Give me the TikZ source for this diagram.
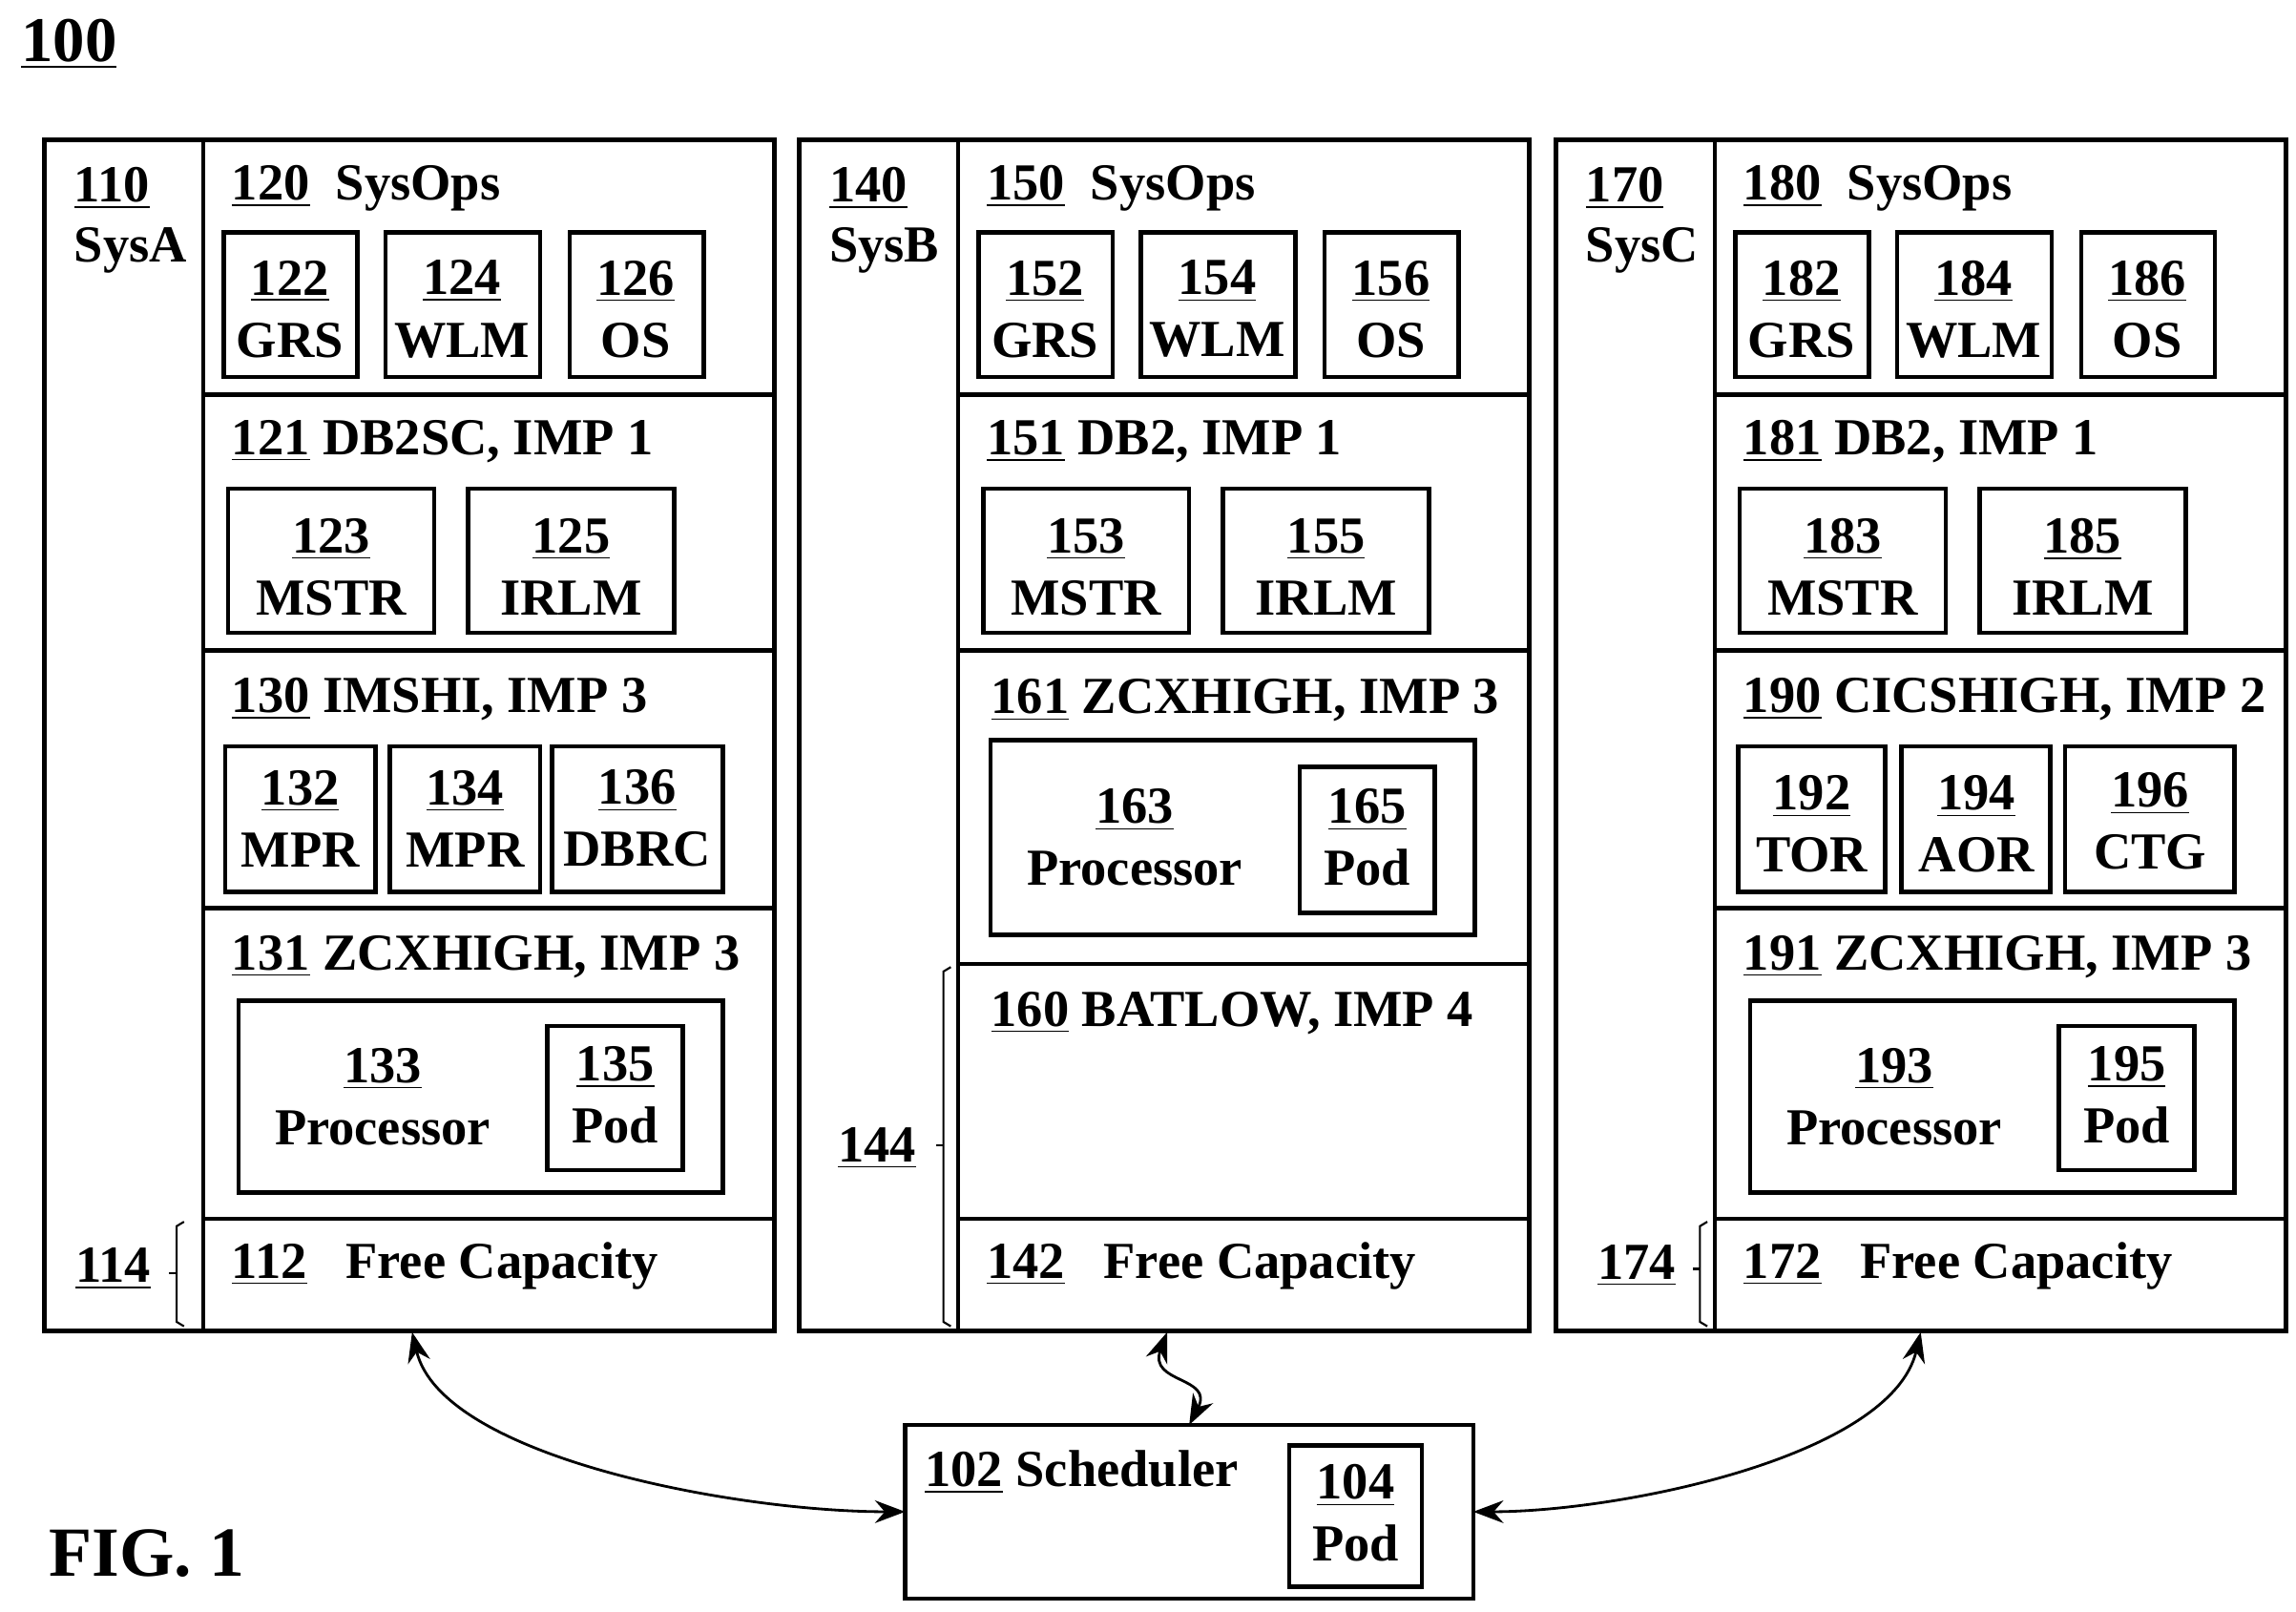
\documentclass[tikz,border=0pt]{standalone}
\usepackage{fontspec}
\setmainfont{Liberation Serif}
\usetikzlibrary{arrows.meta, positioning}

\newcommand{\un}[1]{\underline{#1}}

\begin{document}
\begin{tikzpicture}[
      x=0.01542cm, y=-0.01542cm,
      every node/.style={font=\fontsize{15.5}{18.5}\selectfont\bfseries, inner sep=0},
      box/.style={draw, line width=1.3pt},
      lbl/.style={align=center},
      head/.style={anchor=west},
      link/.style={{Stealth[length=9pt]}-{Stealth[length=9pt]}, line width=0.8pt},
      brace/.style={line width=0.6pt},
    ]
    \useasboundingbox (0,0) rectangle (1560,1095);

    \node[anchor=west] (fig) at (14,30) {\fontsize{19}{22}\selectfont\un{100}};
    \node[anchor=west] (figlbl) at (33,1055) {\fontsize{21}{24}\selectfont FIG. 1};

    % ---- three systems ----
    \foreach \dx/\sys/\nA/\nB in {0/SysA/110/114, 513/SysB/140/144, 1027/SysC/170/174} {
      \draw[box] (30+\dx,95) rectangle (526+\dx,904);
      \draw[box] (138+\dx,95) -- (138+\dx,904);
      \node[anchor=west] at (50+\dx,128) {\un{\nA}};
      \node[anchor=west] at (50+\dx,170) {\sys};
      % row lines
      \draw[box] (138+\dx,268) -- (526+\dx,268);
      \draw[box] (138+\dx,442) -- (526+\dx,442);
      \draw[box] (138+\dx,828) -- (526+\dx,828);
    }
    \draw[box] (138,617) -- (526,617);
    \draw[box] (651,655) -- (1040,655);
    \draw[box] (1165,617) -- (1553,617);

    % ---- SysOps rows ----
    \foreach \dx/\nA/\nB/\nC/\nD in {0/120/122/124/126, 513/150/152/154/156, 1027/180/182/184/186} {
      \node[head] at (157+\dx,128) {\un{\nA}\ \ SysOps};
      \draw[box] (152+\dx,158) rectangle (243+\dx,256);
      \node[lbl] at (197+\dx,210) {\un{\nB}\\GRS};
      \draw[box] (262+\dx,158) rectangle (367+\dx,256);
      \node[lbl] at (314+\dx,210) {\un{\nC}\\WLM};
      \draw[box] (387+\dx,158) rectangle (478+\dx,256);
      \node[lbl] at (432+\dx,210) {\un{\nD}\\OS};
    }

    % ---- DB2 rows ----
    \foreach \dx/\nA/\name/\nB/\nC in {0/121/DB2SC/123/125, 513/151/DB2/153/155, 1027/181/DB2/183/185} {
      \node[head] at (157+\dx,300) {\un{\nA}\ \name, IMP 1};
      \draw[box] (155+\dx,332) rectangle (295+\dx,430);
      \node[lbl] at (225+\dx,385) {\un{\nB}\\MSTR};
      \draw[box] (318+\dx,332) rectangle (458+\dx,430);
      \node[lbl] at (388+\dx,385) {\un{\nC}\\IRLM};
    }

    % ---- IMSHI / CICSHIGH rows ----
    \node[head] at (157,475) {\un{130}\ IMSHI, IMP 3};
    \draw[box] (153,507) rectangle (255,606);
    \node[lbl] at (204,556) {\un{132}\\MPR};
    \draw[box] (265,507) rectangle (367,606);
    \node[lbl] at (316,556) {\un{134}\\MPR};
    \draw[box] (375,507) rectangle (491,606);
    \node[lbl] at (433,556) {\un{136}\\DBRC};

    \node[head] at (1184,475) {\un{190}\ CICSHIGH, IMP 2};
    \draw[box] (1181,507) rectangle (1281,606);
    \node[lbl] at (1231,560) {\un{192}\\TOR};
    \draw[box] (1292,507) rectangle (1393,606);
    \node[lbl] at (1343,560) {\un{194}\\AOR};
    \draw[box] (1403,507) rectangle (1518,606);
    \node[lbl] at (1461,558) {\un{196}\\CTG};

    % ---- ZCXHIGH rows ----
    \foreach \dx/\nA/\nB/\nC in {0/131/133/135, 1027/191/193/195} {
      \node[head] at (157+\dx,650) {\un{\nA}\ ZCXHIGH, IMP 3};
      \draw[box] (162+\dx,680) rectangle (491+\dx,810);
      \node[lbl] at (260+\dx,745) {\un{\nB}\\Processor};
      \draw[box] (372+\dx,697) rectangle (464+\dx,795);
      \node[lbl] at (418+\dx,744) {\un{\nC}\\Pod};
    }
    \node[head] at (673,476) {\un{161}\ ZCXHIGH, IMP 3};
    \draw[box] (673,503) rectangle (1002,635);
    \node[lbl] at (771,569) {\un{163}\\Processor};
    \draw[box] (883,521) rectangle (975,620);
    \node[lbl] at (929,569) {\un{165}\\Pod};

    \node[head] at (673,688) {\un{160}\ BATLOW, IMP 4};

    % ---- free capacity ----
    \foreach \dx/\nA in {0/112, 513/142, 1027/172} {
      \node[head] at (157+\dx,860) {\un{\nA}\ \ \ Free Capacity};
    }

    % ---- braces ----
    \draw[brace] (125,830) -- (120,833) -- (120,898) -- (125,901);
    \draw[brace] (120,865) -- (115,865);
    \node at (77,862) {\un{114}};
    \draw[brace] (646,657) -- (641,660) -- (641,898) -- (646,901);
    \draw[brace] (641,778) -- (636,778);
    \node at (596,780) {\un{144}};
    \draw[brace] (1160,830) -- (1155,833) -- (1155,898) -- (1160,901);
    \draw[brace] (1155,862) -- (1150,862);
    \node at (1112,860) {\un{174}};

    % ---- scheduler ----
    \draw[box] (615,968) rectangle (1001,1086);
    \node[head] (sched) at (628,1000) {\un{102}\ Scheduler};
    \draw[box] (876,982) rectangle (966,1078);
    \node[lbl] (pod) at (921,1028) {\un{104}\\Pod};

    \coordinate (a) at (280,905);
    \coordinate (b) at (793,905);
    \coordinate (c) at (1305,905);
    \coordinate (sl) at (615,1027);
    \coordinate (st) at (808,968);
    \coordinate (sr) at (1001,1027);
    \draw[link] (a) .. controls (300,990) and (500,1027) .. (sl);
    \draw[link] (b) .. controls (780,940) and (825,935) .. (st);
    \draw[link] (c) .. controls (1285,990) and (1100,1027) .. (sr);

  \end{tikzpicture}
\end{document}
